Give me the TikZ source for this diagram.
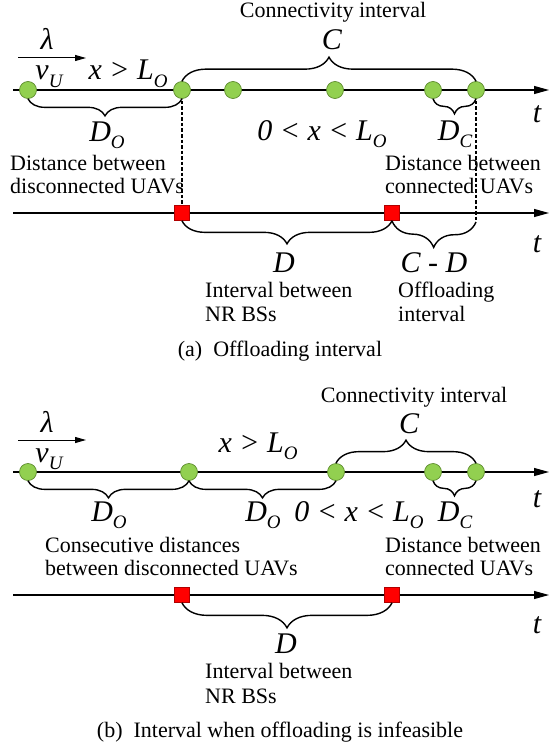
\documentclass[tikz,border=0pt]{standalone}
\usepackage{fontspec}
\setmainfont{Liberation Serif}
\usetikzlibrary{arrows.meta,decorations.pathreplacing,backgrounds}
\newcommand\sbs[1]{\raisebox{-0.25em}{\fontsize{19}{19}\selectfont\itshape #1}}
\definecolor{uavgreen}{HTML}{92D050}
\definecolor{uavdark}{HTML}{5E8C2E}
\definecolor{bsdark}{HTML}{B00000}
\begin{document}
\begin{tikzpicture}[x=1pt,y=-1pt,
  uav/.style={circle,fill=uavgreen,draw=uavdark,line width=0.7pt,minimum size=17pt,inner sep=0pt},
  bs/.style={rectangle,fill=red,draw=bsdark,line width=0.7pt,minimum size=15pt,inner sep=0pt},
  axis/.style={line width=1.1pt,-{Triangle[length=15pt,width=8pt]}},
  vel/.style={line width=1pt,-{Triangle[length=11pt,width=6pt]}},
  brc/.style={decorate,decoration={brace,amplitude=#1},line width=1.4pt},
  dsh/.style={line width=1.1pt,dash pattern=on 3.5pt off 2pt},
  lbl/.style={font=\fontsize{22}{24}\selectfont,inner sep=0pt,anchor=base west},
  captxt/.style={font=\fontsize{22}{24}\selectfont,inner sep=0pt,anchor=base},
  mth/.style={font=\fontsize{30}{30}\selectfont\itshape,inner sep=0pt,anchor=base},
]
\useasboundingbox (0,0) rectangle (559,749);

% ================= panel (a) =================
\coordinate (aL) at (13,90);
\coordinate (aR) at (549,90);
\coordinate (bL) at (13,213);
\coordinate (bR) at (549,213);
\draw[axis] (aL) -- (aR);
\draw[axis] (bL) -- (bR);

\node[uav] (a1) at (28,90) {};
\node[uav] (a2) at (182,90) {};
\node[uav] (a3) at (233,90) {};
\node[uav] (a4) at (335,90) {};
\node[uav] (a5) at (433,90) {};
\node[uav] (a6) at (476,90) {};
\node[bs] (s1) at (182,213) {};
\node[bs] (s2) at (392,213) {};
\coordinate (dend) at (476,222);

\begin{scope}[on background layer]
\fill[white] (0,0) rectangle (559,749);
\draw[dsh] (a2.center) -- (s1.center);
\draw[dsh] (a6.center) -- (dend);
\end{scope}

\draw[brc=24] (a2.north) -- (a6.north);
\draw[brc=17] (a2.south) -- (a1.south);
\draw[brc=15] (a6.south) -- (a5.south);
\draw[brc=23] (s2.south) -- (s1.south);
\draw[brc=26] (dend) -- (s2.south);

\coordinate (v1) at (18,58);
\coordinate (v2) at (86,58);
\draw[vel] (v1) -- (v2);
\node[mth] (lam1) at (47,50) {λ};
\node[mth] (vu1) at (49,80) {v\sbs{U}};
\node[mth] (xg1) at (128,80) {x > L\sbs{O}};
\node[captxt] (conn1) at (333,18) {Connectivity interval};
\node[mth] (C1) at (332,50) {C};
\node[mth] (DO1) at (107,141) {D\sbs{O}};
\node[mth] (rng1) at (322,140) {0 < x < L\sbs{O}};
\node[mth] (DC1) at (455,140) {D\sbs{C}};
\node[mth] (t1) at (537,123) {t};
\node[lbl] (l1a) at (10,170) {Distance between};
\node[lbl] (l1b) at (10,193) {disconnected UAVs};
\node[lbl] (l2a) at (385,170) {Distance between};
\node[lbl] (l2b) at (385,193) {connected UAVs};

\node[mth] (D1) at (284,272) {D};
\node[mth] (CD1) at (434,272) {C - D};
\node[mth] (t2) at (537,252) {t};
\node[lbl] (l3a) at (205,297) {Interval between};
\node[lbl] (l3b) at (205,321) {NR BSs};
\node[lbl] (l4a) at (398,297) {Offloading};
\node[lbl] (l4b) at (398,321) {interval};
\node[captxt] (capa) at (280,356) {(a)\enspace Offloading interval};

% ================= panel (b) =================
\coordinate (cL) at (13,472);
\coordinate (cR) at (549,472);
\coordinate (dL) at (13,595);
\coordinate (dR) at (549,595);
\draw[axis] (cL) -- (cR);
\draw[axis] (dL) -- (dR);

\node[uav] (c1) at (28,472) {};
\node[uav] (c2) at (189,472) {};
\node[uav] (c3) at (336,472) {};
\node[uav] (c4) at (433,472) {};
\node[uav] (c5) at (476,472) {};
\node[bs] (r1) at (182,595) {};
\node[bs] (r2) at (392,595) {};

\draw[brc=23] (c3.north) -- (c5.north);
\draw[brc=17] (c2.south) -- (c1.south);
\draw[brc=17] (c3.south) -- (c2.south);
\draw[brc=15] (c5.south) -- (c4.south);
\draw[brc=25] (r2.south) -- (r1.south);

\coordinate (w1) at (18,440);
\coordinate (w2) at (86,440);
\draw[vel] (w1) -- (w2);
\node[mth] (lam2) at (47,432) {λ};
\node[mth] (vu2) at (49,462) {v\sbs{U}};
\node[mth] (xg2) at (258,452) {x > L\sbs{O}};
\node[captxt] (conn2) at (414,402) {Connectivity interval};
\node[mth] (C2) at (409,433) {C};
\node[mth] (DO2) at (109,521) {D\sbs{O}};
\node[mth] (DO3) at (263,521) {D\sbs{O}};
\node[mth] (rng2) at (359,521) {0 < x < L\sbs{O}};
\node[mth] (DC2) at (455,521) {D\sbs{C}};
\node[mth] (t3) at (537,507) {t};
\node[lbl] (l5a) at (45,552) {Consecutive distances};
\node[lbl] (l5b) at (45,575) {between disconnected UAVs};
\node[lbl] (l6a) at (385,552) {Distance between};
\node[lbl] (l6b) at (385,575) {connected UAVs};

\node[mth] (D2) at (286,653) {D};
\node[mth] (t4) at (537,633) {t};
\node[lbl] (l7a) at (205,678) {Interval between};
\node[lbl] (l7b) at (205,703) {NR BSs};
\node[captxt] (capb) at (280,737) {(b)\enspace Interval when offloading is infeasible};
\end{tikzpicture}
\end{document}
